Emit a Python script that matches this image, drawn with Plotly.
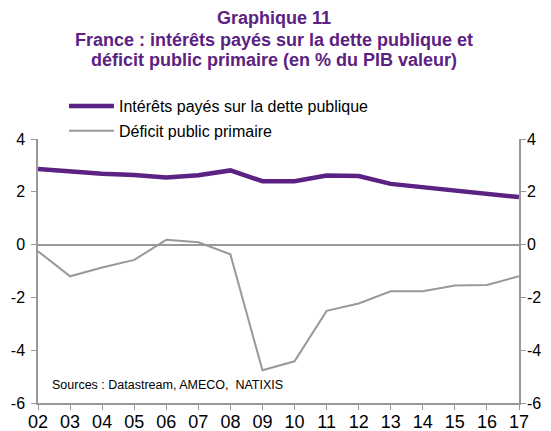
import plotly.graph_objects as go

years = list(range(2002, 2018))
year_labels = ["02", "03", "04", "05", "06", "07", "08", "09", "10", "11", "12", "13", "14", "15", "16", "17"]
y_ticks = [-6, -4, -2, 0, 2, 4]
y_labels = ["-6", "-4", "-2", "0", "2", "4"]

interets = [2.86, 2.77, 2.68, 2.64, 2.54, 2.63, 2.81, 2.40, 2.40, 2.62, 2.60, 2.30, 2.18, 2.05, 1.93, 1.80]
deficit = [-0.25, -1.2, -0.87, -0.58, 0.18, 0.09, -0.37, -4.76, -4.42, -2.51, -2.23, -1.77, -1.77, -1.55, -1.53, -1.20]

title_lines = ["Graphique 11",
               "France : intérêts payés sur la dette publique et",
               "déficit public primaire (en % du PIB valeur)"]

purple = "#5B2283"
grey = "#999999"
font = "Arial, Liberation Sans, sans-serif"

fig = go.Figure()
fig.add_trace(go.Scatter(x=years, y=interets, mode="lines", name="Intérêts payés sur la dette publique",
                         line=dict(color=purple, width=4.5), legendgroup="a"))
fig.add_trace(go.Scatter(x=years, y=deficit, mode="lines", name="Déficit public primaire",
                         line=dict(color=grey, width=2), legendgroup="b", yaxis="y2"))

# page body adds an 8px offset, so the figure is drawn 8px smaller and shifted
for txt, ty in zip(title_lines, [1.457, 1.375, 1.298]):
    fig.add_annotation(text="<b>" + txt + "</b>", xref="paper", yref="paper", x=0.49, y=ty,
                       xanchor="center", yanchor="middle", showarrow=False,
                       font=dict(size=18, color=purple, family=font))

fig.add_annotation(text="Sources : Datastream, AMECO,  NATIXIS", xref="paper", yref="paper",
                   x=0.024, y=0.068, xanchor="left", yanchor="middle", showarrow=False,
                   font=dict(size=12.5, color="#000000", family=font))

yax = dict(range=[-6, 4], tickvals=y_ticks, ticktext=y_labels, showgrid=False,
           showline=True, linecolor=grey, linewidth=1.5, ticks="outside", ticklen=5, tickcolor=grey,
           automargin=False, tickfont=dict(size=16, color="#000000"))

fig.update_layout(
    width=543, height=423,
    margin=dict(l=30, r=32, t=131, b=28, autoexpand=False),
    paper_bgcolor="white", plot_bgcolor="white",
    font=dict(family=font, color="#000000"),
    legend=dict(x=0.054, y=1.189, xanchor="left", yanchor="top", traceorder="grouped", tracegroupgap=1,
                itemwidth=45, font=dict(size=16, color="#000000", family=font), bgcolor="rgba(0,0,0,0)"),
    xaxis=dict(range=[2002, 2017], tickvals=years, ticktext=year_labels, showgrid=False, zeroline=False,
               showline=True, linecolor=grey, linewidth=1.5, ticks="outside", ticklen=5, tickcolor=grey,
               automargin=False, ticklabelstandoff=-3, tickfont=dict(size=18, color="#000000")),
    yaxis=dict(yax, zeroline=True, zerolinecolor=grey, zerolinewidth=1.5, ticklabelstandoff=3),
    yaxis2=dict(yax, overlaying="y", side="right", zeroline=False, ticklabelstandoff=-2),
)

fig.write_html("out.html")
